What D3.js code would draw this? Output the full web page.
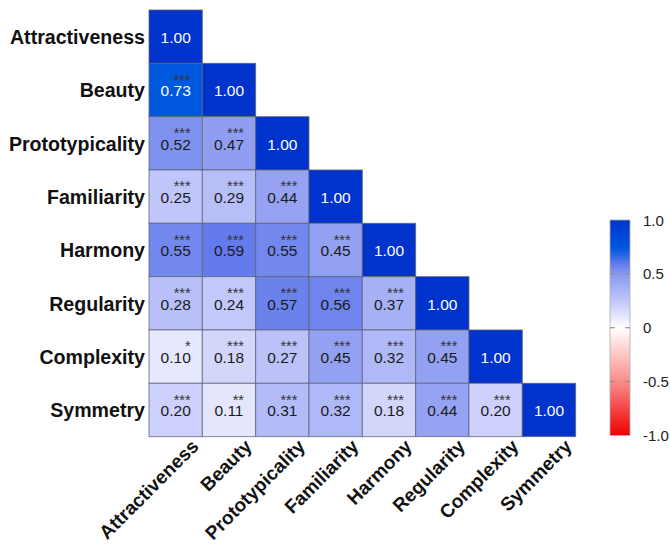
<!DOCTYPE html>
<html>
<head>
<meta charset="utf-8">
<script src="https://cdn.jsdelivr.net/npm/d3@7/dist/d3.min.js"></script>
<style>
  html, body { margin: 0; padding: 0; background: #fff; }
  svg { display: block; font-family: "Liberation Sans", Arial, Helvetica, sans-serif; }
</style>
</head>
<body>
<svg id="chart" width="670" height="547"></svg>
<script>
// Variables in matrix order
const variables = ["Attractiveness", "Beauty", "Prototypicality", "Familiarity",
                   "Harmony", "Regularity", "Complexity", "Symmetry"];

// Lower-triangle correlation coefficients (row i holds columns 0..i)
const corrValues = [
  [1.00],
  [0.73, 1.00],
  [0.52, 0.47, 1.00],
  [0.25, 0.29, 0.44, 1.00],
  [0.55, 0.59, 0.55, 0.45, 1.00],
  [0.28, 0.24, 0.57, 0.56, 0.37, 1.00],
  [0.10, 0.18, 0.27, 0.45, 0.32, 0.45, 1.00],
  [0.20, 0.11, 0.31, 0.32, 0.18, 0.44, 0.20, 1.00]
];

// Significance markers for each coefficient
const sigStars = [
  [""],
  ["***", ""],
  ["***", "***", ""],
  ["***", "***", "***", ""],
  ["***", "***", "***", "***", ""],
  ["***", "***", "***", "***", "***", ""],
  ["*",   "***", "***", "***", "***", "***", ""],
  ["***", "**",  "***", "***", "***", "***", "***", ""]
];

// Colour bar ticks
const legendTicks = [1.0, 0.5, 0, -0.5, -1.0];
const legendLabels = ["1.0", "0.5", "0", "-0.5", "-1.0"];

// Diverging palette: red (-1) -> white (0) -> deep blue (+1)
const colorStops = [-1, -0.5, 0, 0.25, 0.5, 0.6, 0.73, 1];
const colorValues = ["#F00000", "#FA8C8C", "#FFFFFF", "#C0C6FA", "#8898F0", "#5F78EB", "#0058DE", "#0033CC"];
const color = d3.scaleLinear().domain(colorStops).range(colorValues).clamp(true);

const svg = d3.select("#chart");

const gridLeft = 149, gridTop = 10, cellSize = 53.33;
const n = variables.length;
const x = d3.scaleBand().domain(variables).range([gridLeft, gridLeft + cellSize * n]);
const y = d3.scaleBand().domain(variables).range([gridTop, gridTop + cellSize * n]);

// Flatten the lower triangle into cell records
const cells = [];
corrValues.forEach((row, i) => {
  row.forEach((v, j) => {
    cells.push({ row: variables[i], col: variables[j], value: v, stars: sigStars[i][j] });
  });
});

const g = svg.append("g");

const cellG = g.selectAll("g.cell").data(cells).join("g").attr("class", "cell");

cellG.append("rect")
  .attr("x", d => x(d.col))
  .attr("y", d => y(d.row))
  .attr("width", x.bandwidth())
  .attr("height", y.bandwidth())
  .attr("fill", d => color(d.value))
  .attr("stroke", "#5c6070")
  .attr("stroke-opacity", 0.75)
  .attr("stroke-width", 1);

// Cell label: significance stars on a small line above the coefficient
const label = cellG.append("text")
  .attr("font-size", "15.5px");

label.filter(d => d.stars).append("tspan")
  .attr("x", d => x(d.col) + x.bandwidth() / 2 + 15)
  .attr("y", d => y(d.row) + 21.5)
  .attr("text-anchor", "end")
  .attr("font-size", "14.5px")
  .attr("fill", "#333")
  .text(d => d.stars);

label.append("tspan")
  .attr("x", d => x(d.col) + x.bandwidth() / 2)
  .attr("y", d => y(d.row) + 33)
  .attr("text-anchor", "middle")
  .attr("fill", d => d.value > 0.65 ? "#ffffff" : "#1a1a1a")
  .text(d => d.value.toFixed(2));

// Row labels
g.selectAll("text.rowlab").data(variables).join("text")
  .attr("class", "rowlab")
  .attr("x", gridLeft - 4)
  .attr("y", d => y(d) + y.bandwidth() / 2 + 7.5)
  .attr("text-anchor", "end")
  .attr("font-size", "19.6px")
  .attr("font-weight", "bold")
  .attr("fill", "#111")
  .text(d => d);

// Column labels, rotated 45 degrees
const gridBottom = gridTop + cellSize * n;
g.selectAll("text.collab").data(variables).join("text")
  .attr("class", "collab")
  .attr("transform", d => `translate(${x(d) + x.bandwidth() / 2 + 24},${gridBottom + 11}) rotate(-45)`)
  .attr("text-anchor", "end")
  .attr("font-size", "19px")
  .attr("font-weight", "bold")
  .attr("fill", "#111")
  .text(d => d);

// Colour bar
const barX = 610, barW = 20;
const barY = d3.scaleLinear().domain([-1, 1]).range([435.5, 220]);

const defs = svg.append("defs");
const grad = defs.append("linearGradient")
  .attr("id", "corrGrad")
  .attr("x1", 0).attr("y1", 1).attr("x2", 0).attr("y2", 0);
d3.range(-1, 1.0001, 0.05).forEach(v => {
  grad.append("stop")
    .attr("offset", (v + 1) / 2)
    .attr("stop-color", color(v));
});

svg.append("rect")
  .attr("x", barX)
  .attr("y", barY(1))
  .attr("width", barW)
  .attr("height", barY(-1) - barY(1))
  .attr("fill", "url(#corrGrad)")
  .attr("stroke", "#b0b0b0")
  .attr("stroke-width", 0.8);

// Inner tick dashes on both sides of the bar
const innerTicks = legendTicks.filter(t => Math.abs(t) < 1);
svg.selectAll("line.tl").data(innerTicks).join("line")
  .attr("class", "tl")
  .attr("x1", barX).attr("x2", barX + 5)
  .attr("y1", d => barY(d)).attr("y2", d => barY(d))
  .attr("stroke", "#888").attr("stroke-width", 1);
svg.selectAll("line.tr").data(innerTicks).join("line")
  .attr("class", "tr")
  .attr("x1", barX + barW - 5).attr("x2", barX + barW)
  .attr("y1", d => barY(d)).attr("y2", d => barY(d))
  .attr("stroke", "#888").attr("stroke-width", 1);

svg.selectAll("text.leg").data(legendTicks).join("text")
  .attr("class", "leg")
  .attr("x", 643)
  .attr("y", d => barY(d) + 5.5)
  .attr("font-size", "15px")
  .attr("fill", "#222")
  .text((d, i) => legendLabels[i]);
</script>
</body>
</html>
